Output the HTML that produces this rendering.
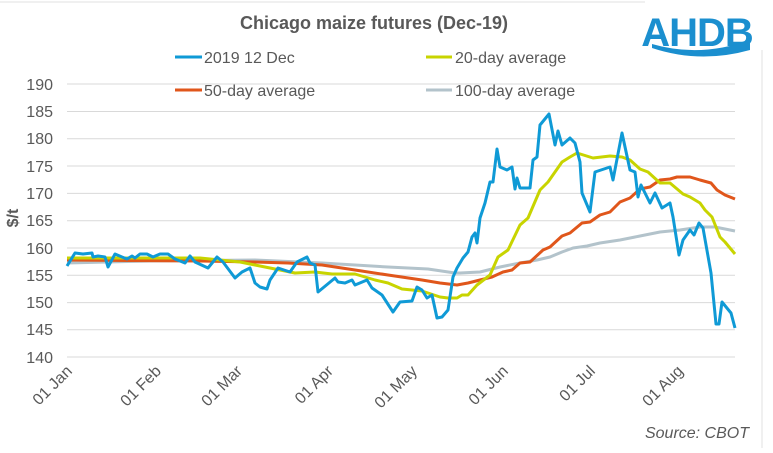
<!DOCTYPE html>
<html><head><meta charset="utf-8"><style>
body{margin:0;background:#fff}
svg text{font-family:"Liberation Sans Narrow","Liberation Sans",sans-serif;fill:#595959}
</style></head><body>
<svg width="773" height="448" viewBox="0 0 773 448" xmlns="http://www.w3.org/2000/svg">
<rect x="0" y="0" width="773" height="448" fill="#fff"/>
<line x1="0" y1="2" x2="645" y2="2" stroke="#e0e0e0"/>
<line x1="762" y1="50" x2="762" y2="448" stroke="#e0e0e0"/>
<g stroke="#d9d9d9" stroke-width="1">
<line x1="67" y1="84" x2="735" y2="84"/>
<line x1="67" y1="111.5" x2="735" y2="111.5"/>
<line x1="67" y1="138.8" x2="735" y2="138.8"/>
<line x1="67" y1="166" x2="735" y2="166"/>
<line x1="67" y1="193.4" x2="735" y2="193.4"/>
<line x1="67" y1="220.7" x2="735" y2="220.7"/>
<line x1="67" y1="248" x2="735" y2="248"/>
<line x1="67" y1="275.3" x2="735" y2="275.3"/>
<line x1="67" y1="302.6" x2="735" y2="302.6"/>
<line x1="67" y1="329.8" x2="735" y2="329.8"/>
<line x1="67" y1="357" x2="735" y2="357"/>
</g>
<g font-size="16" text-anchor="end">
<text x="53" y="90">190</text><text x="53" y="117">185</text><text x="53" y="144">180</text>
<text x="53" y="172">175</text><text x="53" y="199">170</text><text x="53" y="226">165</text>
<text x="53" y="254">160</text><text x="53" y="281">155</text><text x="53" y="308">150</text>
<text x="53" y="335">145</text><text x="53" y="363">140</text>
</g>
<text x="0" y="0" font-size="16" font-weight="bold" text-anchor="middle" transform="translate(18,218) rotate(-90)">$/t</text>
<g font-size="16" text-anchor="end">
<text transform="translate(73,372) rotate(-45)">01 Jan</text>
<text transform="translate(162,372) rotate(-45)">01 Feb</text>
<text transform="translate(243,372) rotate(-45)">01 Mar</text>
<text transform="translate(334,372) rotate(-45)">01 Apr</text>
<text transform="translate(418,372) rotate(-45)">01 May</text>
<text transform="translate(509,372) rotate(-45)">01 Jun</text>
<text transform="translate(596,372) rotate(-45)">01 Jul</text>
<text transform="translate(684,372) rotate(-45)">01 Aug</text>
</g>
<text x="749" y="438" font-size="16" font-style="italic" text-anchor="end">Source: CBOT</text>
<text x="374" y="29" font-size="18" font-weight="bold" text-anchor="middle">Chicago maize futures (Dec-19)</text>
<g font-size="16">
<line x1="175" y1="57" x2="202" y2="57" stroke="#0f9ad6" stroke-width="3"/><text x="204" y="63">2019 12 Dec</text>
<line x1="426" y1="57" x2="452" y2="57" stroke="#c8d400" stroke-width="3"/><text x="455" y="63">20-day average</text>
<line x1="175" y1="90" x2="202" y2="90" stroke="#e0561b" stroke-width="3"/><text x="204" y="96">50-day average</text>
<line x1="426" y1="90" x2="452" y2="90" stroke="#b3c3cb" stroke-width="3"/><text x="455" y="96">100-day average</text>
</g>
<text x="697" y="46" font-size="40" font-weight="bold" text-anchor="middle" style="fill:#1b8fcf;font-family:'Liberation Sans',sans-serif;letter-spacing:-1px">AHDB</text>
<path d="M652 44 Q700 58 750 40 L750 50 Q700 64 652 48 Z" fill="#1b8fcf"/>
<g fill="none" stroke-width="3" stroke-linejoin="round">
<polyline stroke="#b3c3cb" points="67,263 150,261 255,260 322,263 388,267 428,269 455,273 460,273 480,272 500,267 520,263 537,260 550,257 562,252 573,248 587,246 600,243 620,240 640,236 660,232 680,230 700,227 715,227 735,231"/>
<polyline stroke="#e0561b" points="67,260 200,261 255,262 288,263 322,265 355,270 388,275 422,280 440,283 457,285 468,283 480,280 492,277 503,272 512,270 520,263 530,262 543,250 550,247 562,236 570,233 582,223 590,222 600,215 610,212 620,202 630,198 640,189 650,187 660,180 670,179 677,177 690,177 700,180 711,183 717,190 725,195 735,199"/>
<polyline stroke="#c8d400" points="67,258 200,258 240,262 255,265 275,269 295,273 315,272 332,274 355,274 375,280 388,283 402,289 422,291 440,297 448,298 457,298 462,295 468,295 477,285 490,275 498,257 508,250 520,225 528,218 540,190 548,182 562,162 570,157 577,153 593,158 610,156 622,157 630,160 640,169 648,172 660,183 670,183 683,194 690,197 700,203 705,210 712,217 720,237 725,242 735,254"/>
<polyline stroke="#0f9ad6" points="67,266 75,253 83,254 92,253 93,257 98,256 105,257 108,267 115,254 122,257 127,259 132,256 135,258 140,254 147,254 153,257 160,254 168,254 175,259 185,263 190,256 195,262 208,268 217,257 223,262 235,278 242,272 250,268 255,283 260,287 267,289 270,280 278,268 290,272 297,262 307,257 310,263 315,265 318,292 335,278 338,282 345,283 352,280 355,285 367,280 372,288 382,295 393,312 400,302 412,301 417,287 422,290 427,298 432,295 437,318 442,317 448,310 453,277 457,268 463,258 468,252 472,237 475,233 477,243 480,218 485,203 490,182 493,182 497,149 500,167 507,170 512,167 515,189 517,178 520,188 530,188 533,160 537,157 540,125 549,114 555,145 558,131 562,145 570,138 575,143 580,162 582,193 590,212 595,172 610,167 613,180 622,133 630,170 635,172 638,197 641,185 646,195 650,203 655,193 662,208 670,203 673,217 679,255 683,240 690,230 694,235 699,223 703,228 711,273 716,324 719,324 722,302 731,313 735,328"/>
</g>
</svg>
</body></html>
